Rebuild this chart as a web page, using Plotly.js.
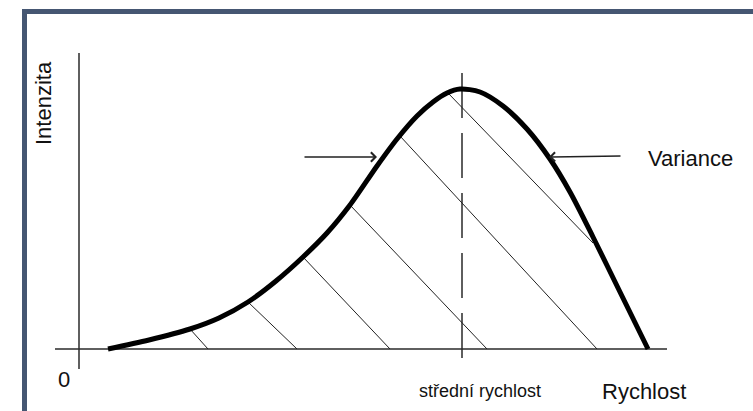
<!DOCTYPE html>
<html>
<head>
<meta charset="utf-8">
<script src="https://cdn.plot.ly/plotly-3.0.1.min.js"></script>
<style>html,body{margin:0;padding:0;background:#fff;}#chart{width:753px;height:411px;}</style>
</head>
<body>
<div id="chart"></div>
<script>
// Distribution curve (speed vs intensity), diagram units
const curveX = [29, 70, 111, 140, 169, 197, 224, 248, 271, 298, 318, 338, 354, 368, 381, 401, 424, 448, 471, 491, 514, 541, 569];
const curveY = [0, 9, 20, 31, 47, 68, 92, 116, 144, 183, 210, 233, 247, 256, 260, 257, 243, 220, 190, 157, 112, 57, 0];

// Hatch lines under the curve (start on curve, end on axis)
const hatchX0 = [111, 169, 224, 271, 321, 369];
const hatchY0 = [20, 47, 92, 144, 213, 256];
const hatchX1 = [129, 218, 311, 408, 518, 514];
const hatchY1 = [0, 0, 0, 0, 0, 106];

// Mean speed (dashed) line
const meanX = 383;
const meanYRange = [-9, 282];

// Axes extents
const xAxisRange = [-24, 588];
const yAxisRange = [-20, 296];

// Variance arrows: [tailX, tailY, headX, headY]
const arrowLeft = [224, 192, 298, 192];
const arrowRight = [543, 193, 470, 192];

// Labels
const labels = [
  {text: 'Intenzita', x: -36, y: 246, size: 22, angle: -90},
  {text: '0', x: -15, y: -30, size: 22, angle: 0},
  {text: 'střední rychlost', x: 401, y: -42, size: 18, angle: 0},
  {text: 'Rychlost', x: 565, y: -42, size: 22, angle: 0},
  {text: 'Variance', x: 611, y: 191, size: 22, angle: 0}
];

const hx = [], hy = [];
for (let i = 0; i < hatchX0.length; i++) {
  hx.push(hatchX0[i], hatchX1[i], null);
  hy.push(hatchY0[i], hatchY1[i], null);
}

const traces = [
  {x: xAxisRange, y: [0, 0], mode: 'lines', line: {color: '#2a2a2a', width: 1.5}, hoverinfo: 'skip'},
  {x: [0, 0], y: yAxisRange, mode: 'lines', line: {color: '#2a2a2a', width: 1.5}, hoverinfo: 'skip'},
  {x: [meanX, meanX], y: meanYRange, mode: 'lines', line: {color: '#2a2a2a', width: 1.5, dash: '45px,15px'}, hoverinfo: 'skip'},
  {x: hx, y: hy, mode: 'lines', line: {color: '#222', width: 1}, hoverinfo: 'skip', connectgaps: false},
  {x: curveX, y: curveY, mode: 'lines', line: {color: '#000', width: 5, shape: 'spline', smoothing: 0.8}, hoverinfo: 'skip'}
];

const annotations = labels.map(l => ({
  text: l.text, x: l.x, y: l.y, xref: 'x', yref: 'y', showarrow: false,
  textangle: l.angle, font: {family: 'Liberation Sans, Arial, sans-serif', size: l.size, color: '#111'},
  xanchor: 'center', yanchor: 'middle'
}));
[arrowLeft, arrowRight].forEach(a => {
  annotations.push({
    text: '', x: a[2], y: a[3], ax: a[0], ay: a[1], xref: 'x', yref: 'y', axref: 'x', ayref: 'y',
    showarrow: true, arrowhead: 4, arrowsize: 1.2, arrowwidth: 1.5, arrowcolor: '#222'
  });
});

const frameColor = '#455672';
const layout = {
  width: 753, height: 411,
  margin: {l: 0, r: 0, t: 0, b: 0},
  paper_bgcolor: '#fff', plot_bgcolor: '#fff',
  showlegend: false,
  xaxis: {range: [-79, 674], visible: false, fixedrange: true},
  yaxis: {range: [-62, 349], visible: false, fixedrange: true},
  annotations: annotations,
  shapes: [
    {type: 'rect', xref: 'paper', yref: 'paper', x0: 22/753, x1: 27/753, y0: -0.1, y1: 1 - 9/411, fillcolor: frameColor, line: {width: 0}, layer: 'above'},
    {type: 'rect', xref: 'paper', yref: 'paper', x0: 22/753, x1: 1.1, y0: 1 - 14/411, y1: 1 - 9/411, fillcolor: frameColor, line: {width: 0}, layer: 'above'}
  ]
};

Plotly.newPlot('chart', traces, layout, {staticPlot: true, displayModeBar: false});
</script>
</body>
</html>
